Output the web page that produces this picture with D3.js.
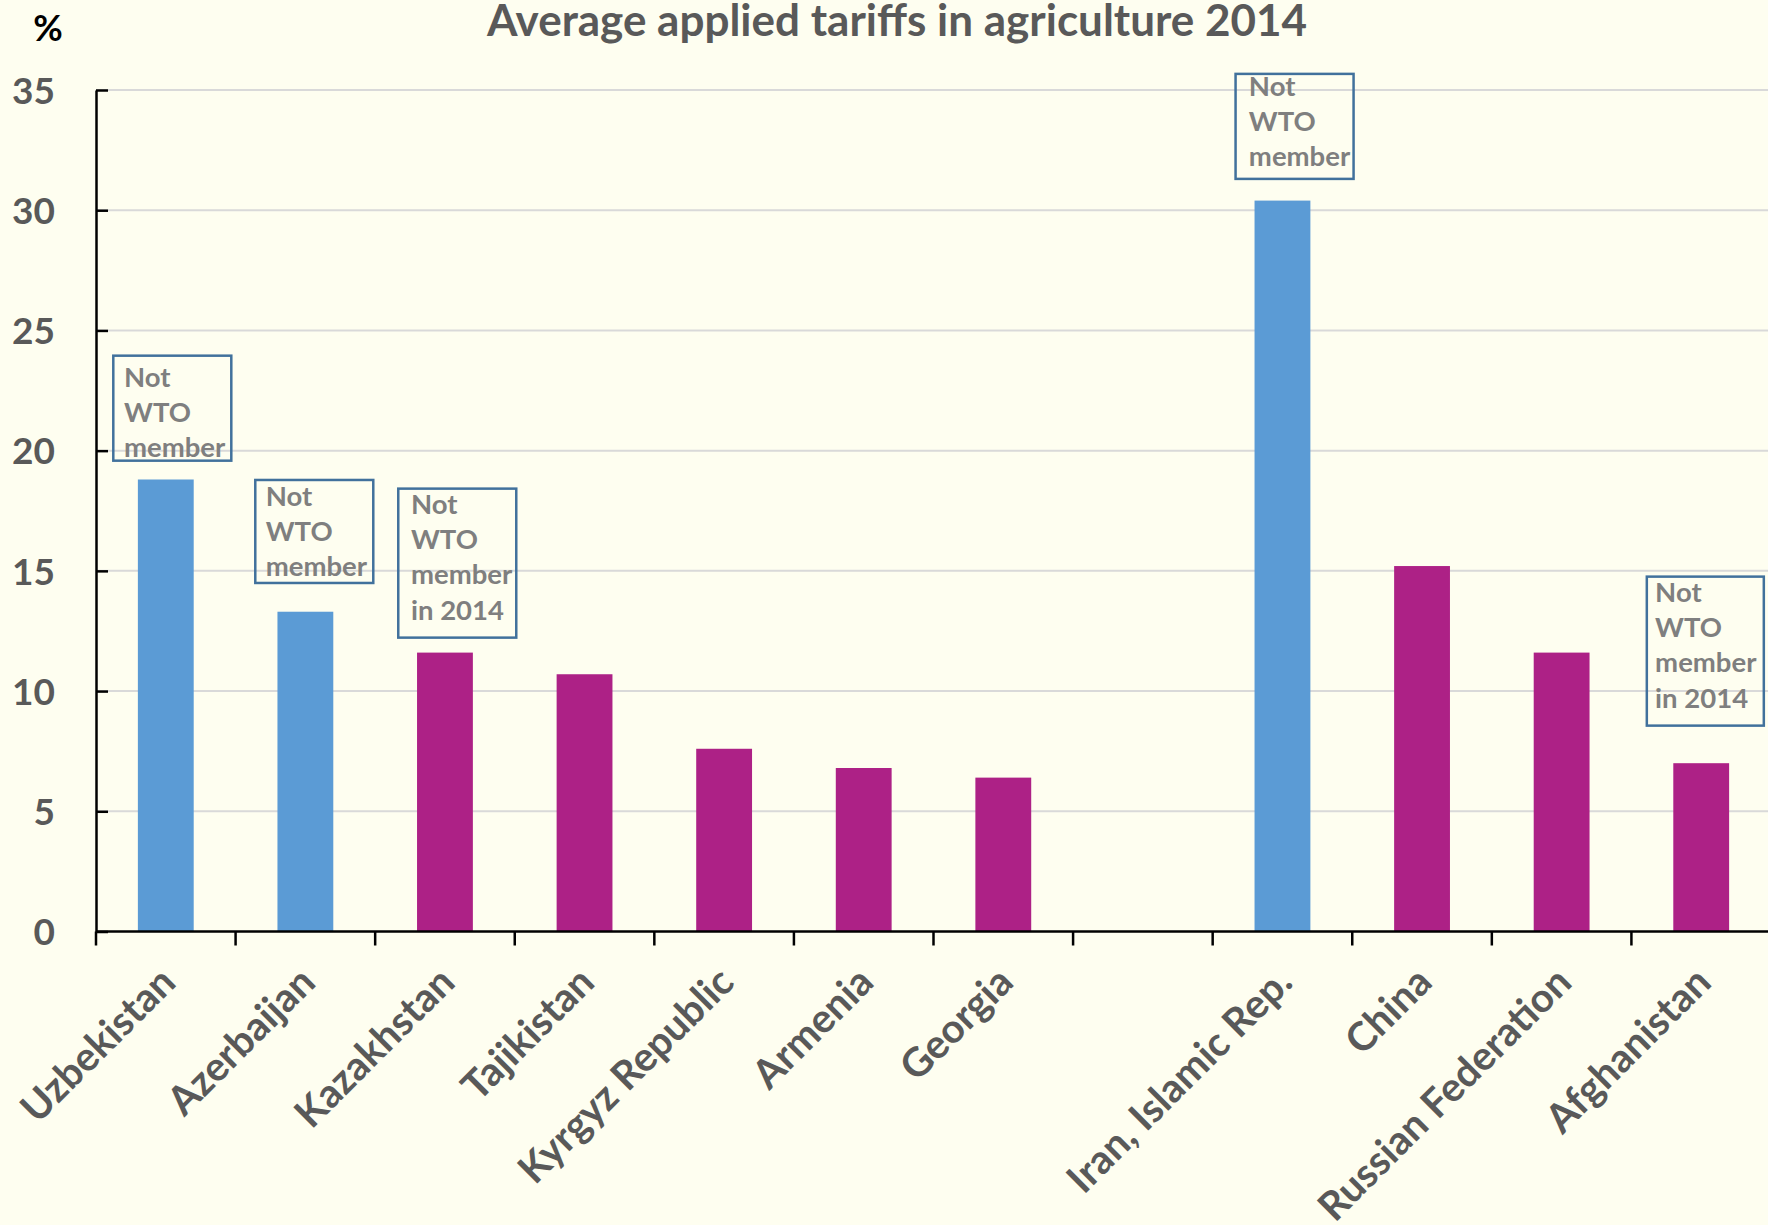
<!DOCTYPE html>
<html>
<head>
<meta charset="utf-8">
<script src="https://cdn.jsdelivr.net/npm/d3@7"></script>
<style>
  html, body { margin: 0; padding: 0; background: #FEFEF0; }
  svg { display: block; }
</style>
</head>
<body>
<svg id="chart" width="1768" height="1225"></svg>
<script>
// Average applied tariffs in agriculture, 2014 (%)
const categories = ["Uzbekistan", "Azerbaijan", "Kazakhstan", "Tajikistan", "Kyrgyz Republic",
  "Armenia", "Georgia", "", "Iran, Islamic Rep.", "China", "Russian Federation", "Afghanistan"];
const tariffs = [18.8, 13.3, 11.6, 10.7, 7.6, 6.8, 6.4, null, 30.4, 15.2, 11.6, 7.0];
// "non" = not a WTO member, "wto" = WTO member (colour group)
const membership = ["non", "non", "wto", "wto", "wto", "wto", "wto", null, "non", "wto", "wto", "wto"];
const yTicks = [0, 5, 10, 15, 20, 25, 30, 35];

// Call-out boxes
const noteCategories = ["Uzbekistan", "Azerbaijan", "Kazakhstan", "Iran, Islamic Rep.", "Afghanistan"];
const noteLines = [
  ["Not", "WTO", "member"],
  ["Not", "WTO", "member"],
  ["Not", "WTO", "member", "in 2014"],
  ["Not", "WTO", "member"],
  ["Not", "WTO", "member", "in 2014"]
];
// top edge of each call-out, in axis units
const noteTop = [23.95, 18.78, 18.42, 35.67, 14.76];

// call-out placement: box offset from the slot's left edge, box size, text inset
const noteLayout = [
  { dx: 17.3, w: 118, h: 105, tx: 10.7, ty: 31 },
  { dx: 19.7, w: 118, h: 103, tx: 10.4, ty: 25.7 },
  { dx: 23.1, w: 118, h: 149, tx: 12.7, ty: 25 },
  { dx: 22.9, w: 118, h: 105, tx: 13.3, ty: 22 },
  { dx: 15.4, w: 117, h: 149, tx: 8.3, ty: 25 }
];

const colors = { non: "#5B9BD5", wto: "#AD2186" };
const svg = d3.select("#chart");
const W = 1768, H = 1225;
svg.append("rect").attr("width", W).attr("height", H).attr("fill", "#FEFEF0");

const plotL = 96, plotR = 1771, plotT = 90, plotB = 931.5;
const x = d3.scaleBand().domain(categories).range([plotL, plotR]).paddingInner(0.6).paddingOuter(0.3);
const y = d3.scaleLinear().domain([0, 35]).range([plotB, plotT]);
const step = x.step();
const slotLeft = c => x(c) - step * 0.3;

// gridlines
svg.append("g").selectAll("line").data(yTicks.filter(d => d > 0)).join("line")
  .attr("x1", plotL).attr("x2", plotR)
  .attr("y1", d => y(d)).attr("y2", d => y(d))
  .attr("stroke", "#D9D9D9").attr("stroke-width", 2);

// bars
const rows = categories.map((c, i) => ({ c, v: tariffs[i], g: membership[i] })).filter(d => d.v != null);
svg.append("g").selectAll("rect").data(rows).join("rect")
  .attr("x", d => x(d.c)).attr("width", x.bandwidth())
  .attr("y", d => y(d.v)).attr("height", d => y(0) - y(d.v))
  .attr("fill", d => colors[d.g]);

// y axis
const yAxis = svg.append("g").attr("transform", `translate(${plotL},0)`)
  .call(d3.axisLeft(y).tickValues(yTicks).tickSize(-12).tickPadding(41).tickSizeOuter(0));
yAxis.select(".domain").attr("stroke", "#000").attr("stroke-width", 2.5);
yAxis.selectAll(".tick line").attr("stroke", "#000").attr("stroke-width", 2.5);
yAxis.selectAll(".tick text")
  .attr("font-family", "Lato, 'Open Sans', sans-serif")
  .attr("font-weight", "bold").attr("font-size", 37).attr("fill", "#595959")
  .attr("dy", "0.36em");

// x axis baseline with ticks at category boundaries
const boundaries = d3.range(categories.length + 1).map(i => plotL + i * step);
const xg = svg.append("g");
xg.append("line").attr("x1", plotL).attr("x2", plotR).attr("y1", plotB).attr("y2", plotB)
  .attr("stroke", "#000").attr("stroke-width", 2.5);
xg.selectAll("line.tk").data(boundaries).join("line").attr("class", "tk")
  .attr("x1", d => d).attr("x2", d => d).attr("y1", plotB).attr("y2", plotB + 14)
  .attr("stroke", "#000").attr("stroke-width", 2.5);

// rotated category labels
xg.selectAll("text").data(categories.filter(c => c !== "")).join("text")
  .attr("transform", d => `translate(${x(d) + x.bandwidth() / 2 + 12},${plotB + 53}) rotate(-45)`)
  .attr("text-anchor", "end")
  .attr("font-family", "Lato, 'Open Sans', sans-serif")
  .attr("font-weight", "bold").attr("font-size", 40).attr("fill", "#595959")
  .text(d => d);

// title and unit label
svg.append("text").attr("x", 897).attr("y", 36).attr("text-anchor", "middle")
  .attr("font-family", "Lato, 'Open Sans', sans-serif").attr("font-weight", "bold")
  .attr("font-size", 44).attr("fill", "#595959")
  .text("Average applied tariffs in agriculture 2014");
svg.append("text").attr("x", 48).attr("y", 41).attr("text-anchor", "middle")
  .attr("font-family", "Lato, 'Open Sans', sans-serif").attr("font-weight", "bold")
  .attr("font-size", 36).attr("fill", "#000")
  .text("%");

// call-out boxes
const notes = noteCategories.map((c, i) => ({ c, lines: noteLines[i], t: noteTop[i], L: noteLayout[i] }));
const ng = svg.append("g").selectAll("g").data(notes).join("g")
  .attr("transform", d => `translate(${slotLeft(d.c) + d.L.dx},${y(d.t)})`);
ng.append("rect").attr("width", d => d.L.w).attr("height", d => d.L.h)
  .attr("fill", "none").attr("stroke", "#41719C").attr("stroke-width", 2.5);
ng.each(function (d) {
  d3.select(this).selectAll("text").data(d.lines).join("text")
    .attr("x", d.L.tx).attr("y", (l, i) => d.L.ty + i * 35.3)
    .attr("font-family", "Lato, 'Open Sans', sans-serif").attr("font-weight", "bold")
    .attr("font-size", 27.5).attr("fill", "#7F7F7F")
    .text(l => l);
});
</script>
</body>
</html>
